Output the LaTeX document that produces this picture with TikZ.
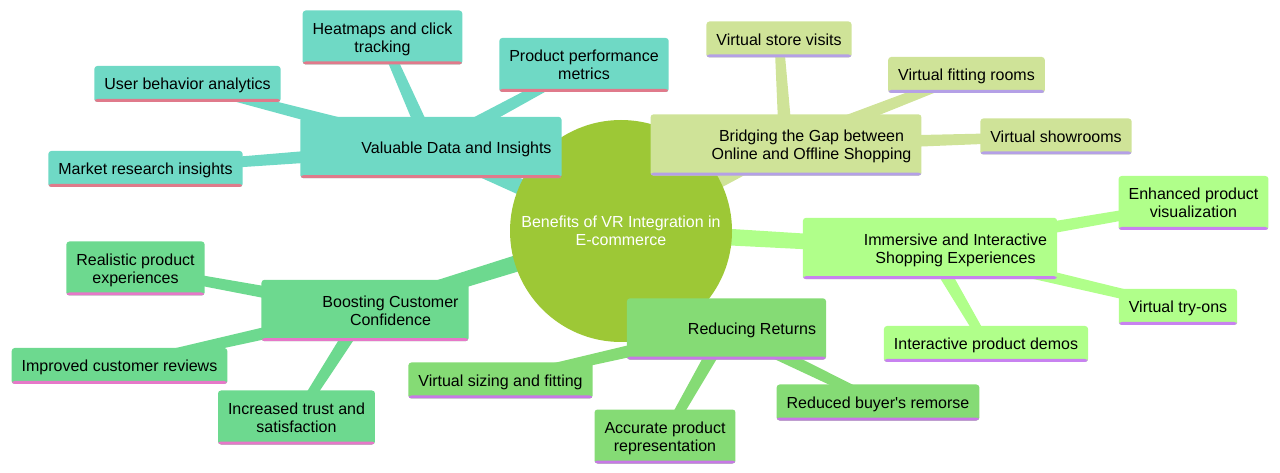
\documentclass[tikz,border=0pt]{standalone}
\usepackage{fontspec}
\setmainfont{Liberation Sans}
\newfontfamily\straight{Liberation Sans}
\usetikzlibrary{calc,backgrounds}

\definecolor{rootc}{HTML}{9DC836}
\definecolor{valc}{HTML}{6FD9C5}
\definecolor{valb}{HTML}{E07A8B}
\definecolor{bric}{HTML}{CFE398}
\definecolor{brib}{HTML}{B4A0E6}
\definecolor{immc}{HTML}{B0FF8A}
\definecolor{immb}{HTML}{C882F0}
\definecolor{booc}{HTML}{6DD98F}
\definecolor{boob}{HTML}{E678C8}
\definecolor{redc}{HTML}{85DB75}
\definecolor{redb}{HTML}{C878E6}

% text of a box, set a little lower than its centre
\newcommand\boxtext[1]{\raisebox{-1.8pt}[\height][\depth]{\begin{tabular}{@{}c@{}}#1\end{tabular}}}

\begin{document}
\begin{tikzpicture}[x=0.75pt,y=-0.75pt]
\tikzset{every node/.style={font=\fontsize{12}{13.5}\selectfont},
    mmbox/.style 2 args={fill=#1, rounded corners=2.25pt, inner xsep=7.5pt,
        path picture={\fill[#2] ([yshift=2.25pt]path picture bounding box.south west) rectangle (path picture bounding box.south east);}},
    secnode/.style 2 args={mmbox={#1}{#2}, minimum height=46pt},
    leaf/.style 2 args={mmbox={#1}{#2}, inner ysep=6.75pt},
    taper/.style 2 args={to path={($(\tikztostart)!#1!90:(\tikztotarget)$) -- ($(\tikztotarget)!#2!-90:(\tikztostart)$)
        -- ($(\tikztotarget)!#2!90:(\tikztostart)$) -- ($(\tikztostart)!#1!-90:(\tikztotarget)$) -- cycle}},
    rootedge/.style={taper={6.75pt}{5.25pt}},
    leafedge/.style={taper={5.25pt}{3.4pt}}}
\useasboundingbox (0,0) rectangle (1280,473);

% centre
\node[circle, fill=rootc, text=white, align=center, inner sep=0pt, minimum size=166.5pt] (root) at (621,231)
    {Benefits of VR Integration in\\E-commerce};

% main branches
\node[secnode={valc}{valb}] (val) at (431,147.5) {\hspace*{38.25pt}\boxtext{Valuable Data and Insights}};
\node[secnode={bric}{brib}] (bri) at (786,145) {\hspace*{38.25pt}\boxtext{Bridging the Gap between\\Online and Offline Shopping}};
\node[secnode={immc}{immb}] (imm) at (930,248.5) {\hspace*{38.25pt}\boxtext{Immersive and Interactive\\Shopping Experiences}};
\node[secnode={booc}{boob}] (boo) at (365,310.5) {\hspace*{38.25pt}\boxtext{Boosting Customer\\Confidence}};
\node[secnode={redc}{redb}] (red) at (726.5,329) {\hspace*{38.25pt}\boxtext{Reducing Returns}};

% leaves
\node[leaf={valc}{valb}] (heat) at (382.5,37.5) {\boxtext{Heatmaps and click\\tracking}};
\node[leaf={valc}{valb}] (perf) at (584,65) {\boxtext{Product performance\\metrics}};
\node[leaf={valc}{valb}] (user) at (187.5,84) {\boxtext{User behavior analytics}};
\node[leaf={valc}{valb}] (mkt) at (145.5,169) {\boxtext{Market research insights}};

\node[leaf={bric}{brib}] (store) at (779,39.5) {\boxtext{Virtual store visits}};
\node[leaf={bric}{brib}] (fit) at (966.5,75) {\boxtext{Virtual fitting rooms}};
\node[leaf={bric}{brib}] (show) at (1056,136.5) {\boxtext{Virtual showrooms}};

\node[leaf={immc}{immb}] (enh) at (1193.5,203) {\boxtext{Enhanced product\\visualization}};
\node[leaf={immc}{immb}] (tryon) at (1178,307) {\boxtext{Virtual try-ons}};
\node[leaf={immc}{immb}] (demo) at (986,344) {\boxtext{Interactive product demos}};

\node[leaf={booc}{boob}] (real) at (135.5,268.5) {\boxtext{Realistic product\\experiences}};
\node[leaf={booc}{boob}] (rev) at (119.5,366) {\boxtext{Improved customer reviews}};
\node[leaf={booc}{boob}] (trust) at (296.5,417.5) {\boxtext{Increased trust and\\satisfaction}};

\node[leaf={redc}{redb}] (size) at (500.5,380.5) {\boxtext{Virtual sizing and fitting}};
\node[leaf={redc}{redb}] (acc) at (665,436.5) {\boxtext{Accurate product\\representation}};
\node[leaf={redc}{redb}] (rem) at (878,402.5) {\boxtext{Reduced buyer{\straight'}s remorse}};

% connectors
\begin{scope}[on background layer]
\foreach \b/\c in {val/valc, bri/bric, imm/immc, boo/booc, red/redc}
    \fill[\c] (root.center) to[rootedge] (\b.center);
\foreach \a/\b/\c in {val/heat/valc, val/perf/valc, val/user/valc, val/mkt/valc,
        bri/store/bric, bri/fit/bric, bri/show/bric,
        imm/enh/immc, imm/tryon/immc, imm/demo/immc,
        boo/real/booc, boo/rev/booc, boo/trust/booc,
        red/size/redc, red/acc/redc, red/rem/redc}
    \fill[\c] (\a.center) to[leafedge] (\b.center);
\end{scope}
\end{tikzpicture}
\end{document}
